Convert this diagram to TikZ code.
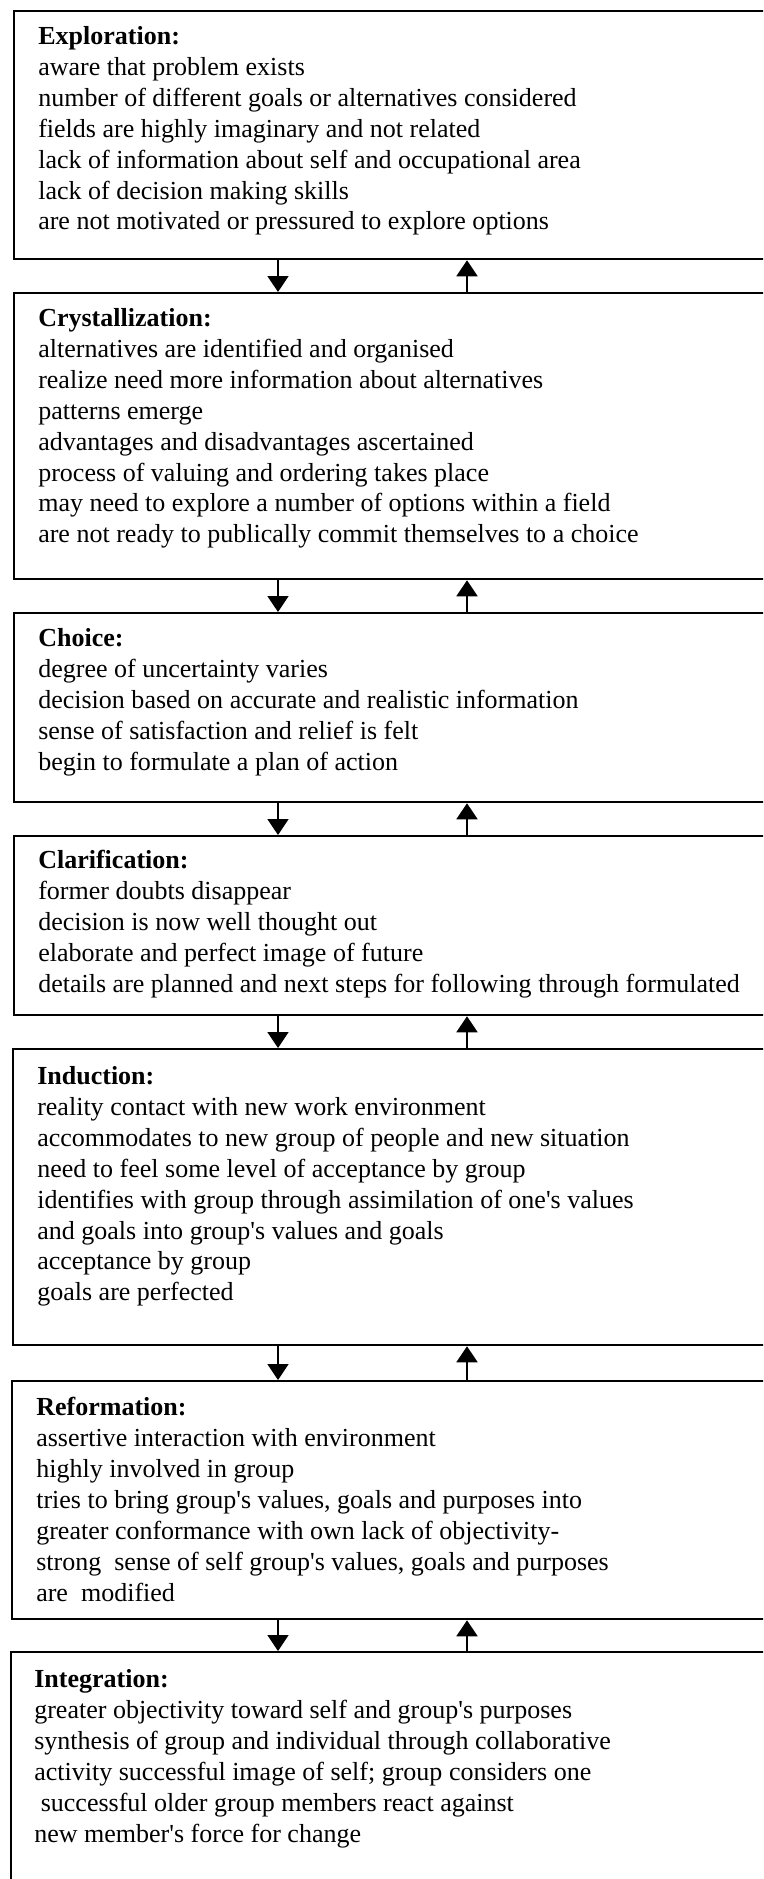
\documentclass[tikz,border=0pt]{standalone}
\usepackage{fontspec}
\setmainfont{Liberation Serif}[Ligatures=TeXOff]
\usetikzlibrary{arrows.meta}
\newcommand\pxl{0.025cm}

\begin{document}
\begin{tikzpicture}[x=\pxl,y=-\pxl,
  stage/.style={draw,line width=1.6pt,anchor=north west,minimum width=800*\pxl,inner sep=0pt},
  txt/.style={anchor=north west,align=left,inner sep=0pt,font=\fontsize{18.5pt}{22pt}\selectfont},
  flow/.style={line width=1.2pt,-{Triangle[width=21*\pxl,length=16*\pxl]}}]
\clip (0,0) rectangle (763,1879);
% the stage frames run past the right edge of the page
\node[stage,minimum height=248*\pxl] at(13,10)(explo){};
\node[stage,minimum height=286*\pxl] at(13,292)(cryst){};
\node[stage,minimum height=189*\pxl] at(13,612)(choice){};
\node[stage,minimum height=179*\pxl] at(13,835)(clarif){};
\node[stage,minimum height=296*\pxl] at(12,1048)(induct){};
\node[stage,minimum height=238*\pxl] at(11,1380)(reform){};
\node[stage,minimum height=260*\pxl] at(10,1651)(integr){};
\node[txt] at(38,26)(explotxt){\textbf{Exploration:}\\
  aware that problem exists\\
  number of different goals or alternatives considered\\
  fields are highly imaginary and not related\\
  lack of information about self and occupational area\\
  lack of decision making skills\\
  are not motivated or pressured to explore options};
\node[txt] at(38,308)(crysttxt){\textbf{Crystallization:}\\
  alternatives are identified and organised\\
  realize need more information about alternatives\\
  patterns emerge\\
  advantages and disadvantages ascertained\\
  process of valuing and ordering takes place\\
  may need to explore a number of options within a field\\
  are not ready to publically commit themselves to a choice};
\node[txt] at(38,628)(choicetxt){\textbf{Choice:}\\
  degree of uncertainty varies\\
  decision based on accurate and realistic information\\
  sense of satisfaction and relief is felt\\
  begin to formulate a plan of action};
\node[txt] at(38,850)(clariftxt){\textbf{Clarification:}\\
  former doubts disappear\\
  decision is now well thought out\\
  elaborate and perfect image of future\\
  details are planned and next steps for following through formulated};
\node[txt] at(37,1066)(inducttxt){\textbf{Induction:}\\
  reality contact with new work environment\\
  accommodates to new group of people and new situation\\
  need to feel some level of acceptance by group\\
  identifies with group through assimilation of one's values\\
  and goals into group's values and goals\\
  acceptance by group\\
  goals are perfected};
\node[txt] at(36,1397)(reformtxt){\textbf{Reformation:}\\
  assertive interaction with environment\\
  highly involved in group\\
  tries to bring group's values, goals and purposes into\\
  greater conformance with own lack of objectivity-\\
  strong\ \ sense of self group's values, goals and purposes\\
  are\ \ modified};
\node[txt] at(34,1669)(integrtxt){\textbf{Integration:}\\
  greater objectivity toward self and group's purposes\\
  synthesis of group and individual through collaborative\\
  activity successful image of self; group considers one\\
  \ successful older group members react against\\
  new member's force for change};
% down and up arrows between neighbouring stages
\coordinate (dn) at (278,0);
\coordinate (up) at (467,0);
\foreach \a/\b in {explo/cryst,cryst/choice,choice/clarif,clarif/induct,induct/reform,reform/integr}{
  \draw[flow] (\a.south -| dn) -- (\b.north -| dn);
  \draw[flow] (\b.north -| up) -- (\a.south -| up);
}
\end{tikzpicture}
\end{document}
